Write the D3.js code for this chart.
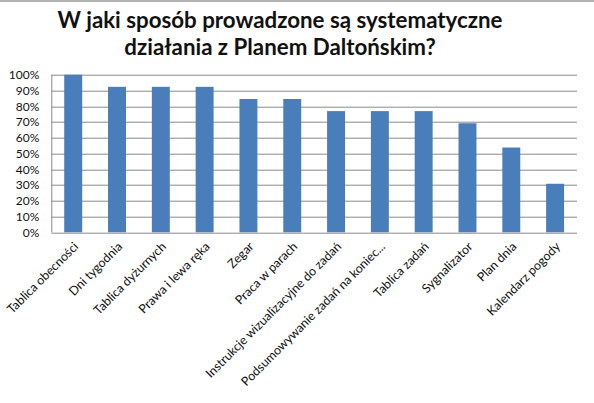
<!DOCTYPE html>
<html>
<head>
<meta charset="utf-8">
<script src="https://cdn.jsdelivr.net/npm/d3@7"></script>
<style>
  body { margin: 0; background: #fff; }
  svg { display: block; }
</style>
</head>
<body>
<div id="chart"></div>
<script>
// data (13 respondents -> x/13)
var categories = ["Tablica obecności", "Dni tygodnia", "Tablica dyżurnych", "Prawa i lewa ręka",
  "Zegar", "Praca w parach", "Instrukcje wizualizacyjne do zadań", "Podsumowywanie zadań na koniec...",
  "Tablica zadań", "Sygnalizator", "Plan dnia", "Kalendarz pogody"];
var values = [1.0, 0.923, 0.923, 0.923, 0.846, 0.846, 0.769, 0.769, 0.769, 0.692, 0.538, 0.308];
var yTicks = [0, 0.1, 0.2, 0.3, 0.4, 0.5, 0.6, 0.7, 0.8, 0.9, 1.0];
var titleLines = ["W jaki sposób prowadzone są systematyczne", "działania z Planem Daltońskim?"];

var W = 594, H = 403;
var margin = {top: 74.7, right: 17, bottom: 170.7, left: 51.3},
    width = W - margin.left - margin.right,
    height = H - margin.top - margin.bottom;

var svg = d3.select("#chart")
  .append("svg")
    .attr("width", W)
    .attr("height", H);

// thin grey frame line at the top
svg.append("line")
  .attr("x1", 0).attr("x2", W)
  .attr("y1", 1).attr("y2", 1)
  .style("stroke", "#9a9a9a")
  .style("stroke-width", 1.5);

// title
svg.append("g").selectAll("text")
  .data(titleLines)
  .enter()
  .append("text")
    .attr("x", 280)
    .attr("y", function(d, i) { return 28 + i * 27; })
    .attr("text-anchor", "middle")
    .style("font-family", "Lato, 'Open Sans', sans-serif")
    .style("font-weight", "bold")
    .style("font-size", "22.3px")
    .style("fill", "#111")
    .text(function(d) { return d; });

var g = svg.append("g")
  .attr("transform", "translate(" + margin.left + "," + margin.top + ")");

var x = d3.scaleBand()
  .domain(categories)
  .range([0, width])
  .paddingInner(0.59)
  .paddingOuter(0.295);

var y = d3.scaleLinear()
  .domain([0, 1])
  .range([height, 0]);

// gridlines
g.append("g")
  .selectAll("line")
  .data(yTicks)
  .enter()
  .append("line")
    .attr("x1", 0)
    .attr("x2", width)
    .attr("y1", function(d) { return Math.round(y(d)) + 0.5; })
    .attr("y2", function(d) { return Math.round(y(d)) + 0.5; })
    .style("stroke", "#8a8a8a")
    .style("stroke-width", 1);

// left axis line
g.append("line")
  .attr("x1", 0.5).attr("x2", 0.5)
  .attr("y1", y(1)).attr("y2", y(0))
  .style("stroke", "#8a8a8a");

// y labels
var yAxis = g.append("g")
  .call(d3.axisLeft(y).tickValues(yTicks).tickSize(0).tickPadding(12).tickFormat(d3.format(".0%")));
yAxis.select(".domain").remove();
yAxis.selectAll("text")
  .style("font-family", "Lato, 'Open Sans', sans-serif")
  .style("font-size", "12px")
  .style("fill", "#111");

// bars
g.append("g")
  .selectAll("rect")
  .data(values)
  .enter()
  .append("rect")
    .attr("x", function(d, i) { return x(categories[i]); })
    .attr("y", function(d) { return y(d); })
    .attr("width", x.bandwidth())
    .attr("height", function(d) { return height - y(d); })
    .style("fill", "#4a7ebb");

// x labels, rotated
g.append("g")
  .selectAll("text")
  .data(categories)
  .enter()
  .append("text")
    .attr("transform", function(d) {
      return "translate(" + (x(d) + x.bandwidth() / 2 + 6) + "," + (height + 15) + ")rotate(-45)";
    })
    .attr("text-anchor", "end")
    .style("font-family", "Lato, 'Open Sans', sans-serif")
    .style("font-size", "12.4px")
    .style("fill", "#111")
    .text(function(d) { return d; });
</script>
</body>
</html>
